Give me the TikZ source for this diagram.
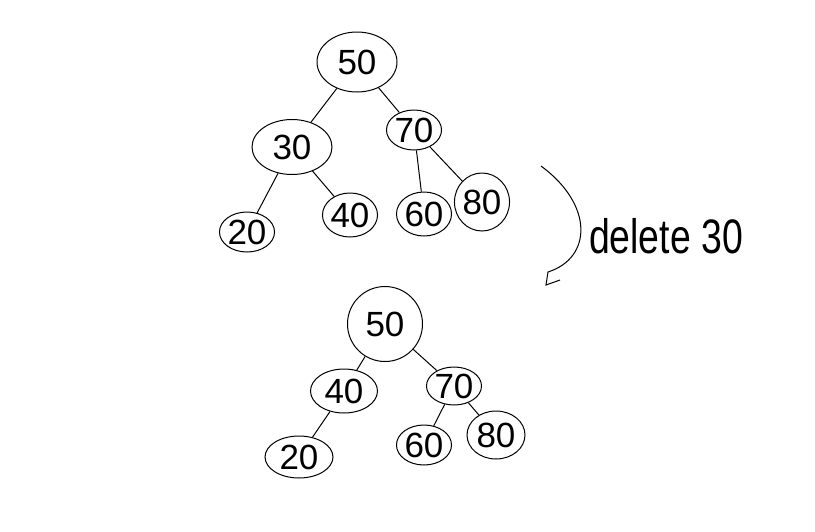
\documentclass[tikz,border=0pt]{standalone}
\usepackage{fontspec}
\setmainfont{Liberation Sans}
\usetikzlibrary{shapes.geometric}

\begin{document}
\begin{tikzpicture}[x=1pt,y=-1pt,line width=1pt,
  key/.style={draw,ellipse,inner sep=0pt,font=\fontsize{35}{35}\selectfont}]
  \useasboundingbox (0,0) rectangle (815,531);

  % tree before the deletion
  \node [key,minimum width=80pt,minimum height=60pt] (t50) at (357,62) {50};
  \node [key,minimum width=80pt,minimum height=55pt] (t30) at (292,147) {30};
  \node [key,minimum width=44pt,minimum height=40pt] (t70) at (414,130) {70};
  \node [key,minimum width=48pt,minimum height=40pt] (t20) at (247,232) {20};
  \node [key,minimum width=46pt,minimum height=44pt] (t40) at (350,215) {40};
  \node [key,minimum width=42pt,minimum height=44pt] (t60) at (424,214) {60};
  \node [key,minimum width=47pt,minimum height=58pt] (t80) at (482,202) {80};

  \path (t50) edge (t30)
              edge (t70)
        (t30) edge (t20)
              edge (t40)
        (t70) edge (t60)
              edge (t80);

  % the step
  \coordinate (arcTop) at (541,166);
  \coordinate (arcBot) at (548,272);
  \draw (arcTop) .. controls (594,205) and (592,258) .. (arcBot) -- ++(-2,13) -- ++(14,-5);
  \node (del) at (666,236) {\scalebox{0.85}[1.1]{\fontsize{44}{44}\selectfont delete 30}};

  % tree after the deletion
  \node [key,minimum width=75pt,minimum height=75pt] (b50) at (385,324) {50};
  \node [key,minimum width=67pt,minimum height=44pt] (b40) at (344,391) {40};
  \node [key,minimum width=50pt,minimum height=38pt] (b70) at (454,386) {70};
  \node [key,minimum width=68pt,minimum height=42pt] (b20) at (299,457) {20};
  \node [key,minimum width=52pt,minimum height=40pt] (b60) at (424,445) {60};
  \node [key,minimum width=58pt,minimum height=48pt] (b80) at (496,435) {80};

  \path (b50) edge (b40)
              edge (b70)
        (b40) edge (b20)
        (b70) edge (b60)
              edge (b80);
\end{tikzpicture}
\end{document}
